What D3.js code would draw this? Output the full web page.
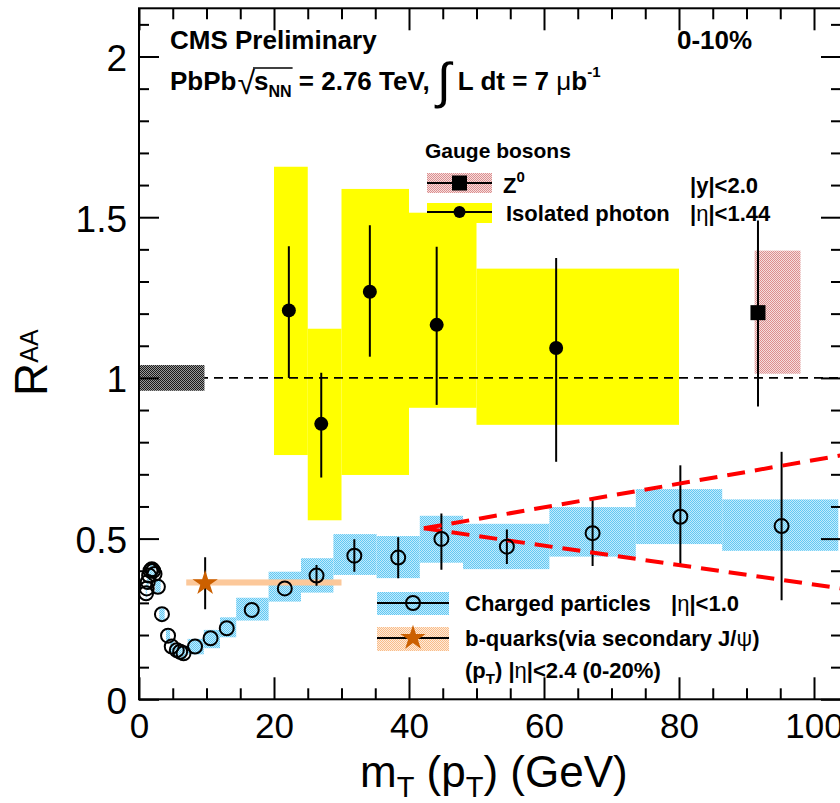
<!DOCTYPE html>
<html><head><meta charset="utf-8">
<script src="https://cdn.jsdelivr.net/npm/d3@7"></script>
<style>body{margin:0;background:#fff}svg{display:block}</style>
</head><body>
<script>
// ---------------- data ----------------
const xMajor = [0, 20, 40, 60, 80, 100];
const xLabels = ["0", "20", "40", "60", "80", "100"];
const xMinor = [5, 10, 15, 25, 30, 35, 45, 50, 55, 65, 70, 75, 85, 90, 95];
const yMajor = [0, 0.5, 1, 1.5, 2];
const yLabels = ["0", "0.5", "1", "1.5", "2"];
const yMinor = [0.1, 0.2, 0.3, 0.4, 0.6, 0.7, 0.8, 0.9, 1.1, 1.2, 1.3, 1.4, 1.6, 1.7, 1.8, 1.9, 2.1];

// isolated photons
const phX = [22.2, 27.0, 34.2, 44.1, 61.8];
const phY = [1.21, 0.857, 1.268, 1.165, 1.093];
const phErrLo = [1.00, 0.69, 1.066, 0.916, 0.739];
const phErrHi = [1.41, 1.016, 1.475, 1.408, 1.373];
const phBinLo = [20, 25, 30, 40, 50];
const phBinHi = [25, 30, 40, 50, 80];
const phSysLo = [0.76, 0.557, 0.698, 0.907, 0.854];
const phSysHi = [1.657, 1.153, 1.588, 1.514, 1.34];

// Z0
const zX = [91.7], zY = [1.203], zErrLo = [0.911], zErrHi = [1.49];
const zBinLo = [91.2], zBinHi = [98.0], zSysLo = [1.013], zSysHi = [1.396];

// charged particles
const chX = [1.05, 1.15, 1.3, 1.5, 1.7, 1.9, 2.1, 2.3, 2.8, 3.4, 4.3, 4.85, 5.6, 6.1, 6.6, 8.3, 10.6, 13.0, 16.7, 21.6, 26.3, 31.9, 38.4, 44.8, 54.5, 67.2, 80.2, 95.2];
const chY = [0.33, 0.345, 0.365, 0.385, 0.40, 0.405, 0.40, 0.39, 0.35, 0.265, 0.198, 0.164, 0.153, 0.148, 0.143, 0.164, 0.19, 0.221, 0.278, 0.345, 0.385, 0.447, 0.441, 0.499, 0.475, 0.517, 0.568, 0.539];
const chErrLo = [0.33, 0.345, 0.365, 0.385, 0.40, 0.405, 0.40, 0.39, 0.35, 0.265, 0.198, 0.164, 0.153, 0.148, 0.143, 0.164, 0.19, 0.221, 0.278, 0.345, 0.353, 0.397, 0.377, 0.403, 0.421, 0.415, 0.418, 0.308];
const chErrHi = [0.33, 0.345, 0.365, 0.385, 0.40, 0.405, 0.40, 0.39, 0.35, 0.265, 0.198, 0.164, 0.153, 0.148, 0.143, 0.164, 0.19, 0.221, 0.278, 0.345, 0.418, 0.498, 0.504, 0.578, 0.528, 0.62, 0.728, 0.77];
const chBinLo = [1.0, 1.1, 1.2, 1.4, 1.6, 1.8, 2.0, 2.2, 2.4, 3.0, 4.0, 4.6, 5.3, 5.9, 6.3, 7.2, 9.6, 12.0, 14.4, 19.2, 24.0, 28.8, 35.2, 41.6, 48.0, 60.8, 73.6, 86.4];
const chBinHi = [1.1, 1.2, 1.4, 1.6, 1.8, 2.0, 2.2, 2.4, 3.2, 3.8, 4.6, 5.2, 5.9, 6.3, 6.9, 9.6, 12.0, 14.4, 19.2, 24.0, 28.8, 35.2, 41.6, 48.0, 60.8, 73.6, 86.4, 103.6];
const chSysLo = [0.312, 0.327, 0.347, 0.367, 0.382, 0.387, 0.382, 0.372, 0.332, 0.247, 0.18, 0.146, 0.135, 0.13, 0.125, 0.14, 0.159, 0.193, 0.245, 0.304, 0.332, 0.387, 0.377, 0.425, 0.405, 0.444, 0.483, 0.462];
const chSysHi = [0.348, 0.363, 0.383, 0.403, 0.418, 0.423, 0.418, 0.408, 0.368, 0.283, 0.216, 0.182, 0.171, 0.166, 0.161, 0.188, 0.216, 0.255, 0.316, 0.397, 0.439, 0.514, 0.508, 0.571, 0.546, 0.598, 0.654, 0.622];

// b-quarks via secondary J/psi
const bX = [9.8], bY = [0.361], bErrLo = [0.28], bErrHi = [0.442];
const bBinLo = [7.0], bBinHi = [30.0], bSysLo = [0.354], bSysHi = [0.373];

// luminosity / normalisation uncertainty box at unity
const lumiX = [0, 9.7], lumiY = [0.96, 1.04];

// red dashed wedge
const wedgeStart = [42.2, 0.532];
const wedgeUpperEnd = [104, 0.759];
const wedgeLowerEnd = [104, 0.345];

// ---------------- drawing ----------------
const W = 840, H = 803;
const FONT = "'Liberation Sans', Arial, Helvetica, sans-serif";
const x = d3.scaleLinear().domain([0, 104]).range([139, 841]);
const y = d3.scaleLinear().domain([0, 2.15]).range([699.3, 8.3]);

const svg = d3.select("body").append("svg").attr("width", W).attr("height", H)
  .style("font-family", FONT);

const defs = svg.append("defs");
function checker(id, c1, c2) {
  const p = defs.append("pattern").attr("id", id).attr("width", 2).attr("height", 2)
    .attr("patternUnits", "userSpaceOnUse");
  p.append("rect").attr("width", 2).attr("height", 2).attr("fill", c2);
  p.append("rect").attr("width", 1).attr("height", 1).attr("fill", c1);
  p.append("rect").attr("x", 1).attr("y", 1).attr("width", 1).attr("height", 1).attr("fill", c1);
}
checker("blueP", "#62c8f3", "#c2ebfc");
checker("pinkP", "#dc8f8f", "#f6dede");
checker("grayP", "#1a1a1a", "#9a9a9a");
checker("peachP", "#f9bd88", "#feeadb");

defs.append("clipPath").attr("id", "plotClip").append("rect")
  .attr("x", x(0)).attr("y", y(2.15)).attr("width", x(104) - x(0)).attr("height", y(0) - y(2.15));

const plot = svg.append("g").attr("clip-path", "url(#plotClip)");

function boxes(g, lo, hi, ylo, yhi, fill) {
  g.selectAll(null).data(lo).enter().append("rect")
    .attr("x", (d, i) => x(lo[i]))
    .attr("width", (d, i) => x(hi[i]) - x(lo[i]))
    .attr("y", (d, i) => y(yhi[i]))
    .attr("height", (d, i) => y(ylo[i]) - y(yhi[i]))
    .attr("fill", fill);
}
function errbars(g, xs, lo, hi, w) {
  g.selectAll(null).data(xs).enter().append("line")
    .attr("x1", d => x(d)).attr("x2", d => x(d))
    .attr("y1", (d, i) => y(lo[i])).attr("y2", (d, i) => y(hi[i]))
    .attr("stroke", "#000").attr("stroke-width", w || 2);
}

// systematic boxes
boxes(plot, phBinLo, phBinHi, phSysLo, phSysHi, "#ffff00");
boxes(plot, zBinLo, zBinHi, zSysLo, zSysHi, "url(#pinkP)");
boxes(plot, chBinLo, chBinHi, chSysLo, chSysHi, "url(#blueP)");
boxes(plot, bBinLo, bBinHi, bSysLo, bSysHi, "#fcc89a");

// unity line
plot.append("line").attr("x1", x(0)).attr("x2", x(104)).attr("y1", y(1)).attr("y2", y(1))
  .attr("stroke", "#000").attr("stroke-width", 1.6).attr("stroke-dasharray", "9,6");
plot.append("rect").attr("x", x(lumiX[0])).attr("width", x(lumiX[1]) - x(lumiX[0]))
  .attr("y", y(lumiY[1])).attr("height", y(lumiY[0]) - y(lumiY[1])).attr("fill", "url(#grayP)");

// error bars
errbars(plot, phX, phErrLo, phErrHi);
errbars(plot, zX, zErrLo, zErrHi);
errbars(plot, chX, chErrLo, chErrHi);
errbars(plot, bX, bErrLo, bErrHi);

// red dashed wedge
[wedgeUpperEnd, wedgeLowerEnd].forEach(e => {
  plot.append("line").attr("x1", x(wedgeStart[0])).attr("y1", y(wedgeStart[1]))
    .attr("x2", x(e[0])).attr("y2", y(e[1]))
    .attr("stroke", "#ff0000").attr("stroke-width", 4).attr("stroke-dasharray", "18,10");
});

// markers
plot.selectAll(null).data(chX).enter().append("circle")
  .attr("cx", d => x(d)).attr("cy", (d, i) => y(chY[i])).attr("r", 7)
  .attr("fill", "none").attr("stroke", "#000").attr("stroke-width", 2);
plot.selectAll(null).data(phX).enter().append("circle")
  .attr("cx", d => x(d)).attr("cy", (d, i) => y(phY[i])).attr("r", 7).attr("fill", "#000");
plot.selectAll(null).data(zX).enter().append("rect")
  .attr("x", d => x(d) - 7.5).attr("y", (d, i) => y(zY[i]) - 7.5)
  .attr("width", 15).attr("height", 15).attr("fill", "#000");
const star = d3.symbol().type(d3.symbolStar).size(200);
plot.selectAll(null).data(bX).enter().append("path")
  .attr("d", star).attr("transform", (d, i) => `translate(${x(d)},${y(bY[i])})`)
  .attr("fill", "#cc6000");

// ---------------- axes ----------------
function styleAxis(g) { g.select(".domain").remove(); g.selectAll("line").attr("stroke", "#000").attr("stroke-width", 2); }
const axB = svg.append("g").attr("transform", `translate(0,${y(0)})`)
  .call(d3.axisBottom(x).tickValues(xMajor).tickSizeInner(-22).tickSizeOuter(0).tickPadding(14)
    .tickFormat((d, i) => xLabels[i]));
styleAxis(axB);
axB.selectAll("text").style("font-size", "35px").style("font-family", FONT).attr("fill", "#000");
svg.append("g").attr("transform", `translate(0,${y(0)})`)
  .call(d3.axisBottom(x).tickValues(xMinor).tickSizeInner(-11).tickSizeOuter(0).tickFormat("")).call(styleAxis);
svg.append("g").attr("transform", `translate(0,${y(2.15)})`)
  .call(d3.axisTop(x).tickValues(xMajor).tickSizeInner(-22).tickSizeOuter(0).tickFormat("")).call(styleAxis);
svg.append("g").attr("transform", `translate(0,${y(2.15)})`)
  .call(d3.axisTop(x).tickValues(xMinor).tickSizeInner(-11).tickSizeOuter(0).tickFormat("")).call(styleAxis);

const axL = svg.append("g").attr("transform", `translate(${x(0)},0)`)
  .call(d3.axisLeft(y).tickValues(yMajor).tickSizeInner(-20).tickSizeOuter(0).tickPadding(12)
    .tickFormat((d, i) => yLabels[i]));
styleAxis(axL);
axL.selectAll("text").style("font-size", "37px").style("font-family", FONT).attr("fill", "#000").attr("dy", "0.38em");
svg.append("g").attr("transform", `translate(${x(0)},0)`)
  .call(d3.axisLeft(y).tickValues(yMinor).tickSizeInner(-10).tickSizeOuter(0).tickFormat("")).call(styleAxis);
svg.append("g").attr("transform", `translate(${x(104)},0)`)
  .call(d3.axisRight(y).tickValues(yMajor).tickSizeInner(-20).tickSizeOuter(0).tickFormat("")).call(styleAxis);
svg.append("g").attr("transform", `translate(${x(104)},0)`)
  .call(d3.axisRight(y).tickValues(yMinor).tickSizeInner(-10).tickSizeOuter(0).tickFormat("")).call(styleAxis);

svg.append("rect").attr("x", x(0)).attr("y", y(2.15)).attr("width", x(104) - x(0)).attr("height", y(0) - y(2.15))
  .attr("fill", "none").attr("stroke", "#000").attr("stroke-width", 2);

// ---------------- text helpers ----------------
function run(parent, x0, y0, parts) {
  let cx = x0;
  parts.forEach(p => {
    const t = parent.append("text").attr("x", cx + (p.dx || 0)).attr("y", y0 + (p.dy || 0))
      .attr("fill", p.fill || "#000")
      .style("font-size", p.size + "px").style("font-weight", p.w || "bold").style("font-family", p.f || FONT)
      .style("white-space", "pre").attr("xml:space", "preserve").text(p.t);
    p.x0 = cx + (p.dx || 0);
    p.width = t.node().getComputedTextLength();
    cx = p.x0 + p.width;
  });
  return parts;
}

// header
run(svg, 170, 49, [{ t: "CMS Preliminary", size: 26 }]);
run(svg, 677, 49, [{ t: "0-10%", size: 26 }]);
const l2 = run(svg, 170, 90, [
  { t: "PbPb", size: 26 },
  { t: "\u221A", size: 32, w: "normal", dx: 1, dy: 4 },
  { t: "s", size: 26, dx: -1 },
  { t: "NN", size: 16, dy: 7 },
  { t: " = 2.76 TeV, ", size: 26 },
  { t: "\u222B", size: 50, w: "normal", dy: 8 },
  { t: " L dt = 7 ", size: 26 },
  { t: "\u03BC", size: 26, w: "normal" },
  { t: "b", size: 26 },
  { t: "-1", size: 15, dy: -13 }
]);
svg.append("line").attr("x1", l2[1].x0 + l2[1].width - 2).attr("x2", l2[3].x0 + l2[3].width + 1)
  .attr("y1", 68).attr("y2", 68).attr("stroke", "#000").attr("stroke-width", 1.5);

// legend: gauge bosons
run(svg, 425, 158, [{ t: "Gauge bosons", size: 21 }]);
const lg = svg.append("g");
lg.append("rect").attr("x", 427).attr("y", 173).attr("width", 65).attr("height", 20).attr("fill", "url(#pinkP)");
lg.append("line").attr("x1", 427).attr("x2", 492).attr("y1", 183).attr("y2", 183).attr("stroke", "#000").attr("stroke-width", 2);
lg.append("rect").attr("x", 459.5 - 7.5).attr("y", 183 - 7.5).attr("width", 15).attr("height", 15).attr("fill", "#000");
run(svg, 503, 193, [{ t: "Z", size: 22 }, { t: "0", size: 15, dy: -11 }]);
run(svg, 690, 193, [{ t: "|y|<2.0", size: 22 }]);
lg.append("rect").attr("x", 427).attr("y", 203).attr("width", 65).attr("height", 20).attr("fill", "#ffff00");
lg.append("line").attr("x1", 427).attr("x2", 492).attr("y1", 212).attr("y2", 212).attr("stroke", "#000").attr("stroke-width", 2);
lg.append("circle").attr("cx", 459.5).attr("cy", 212).attr("r", 6).attr("fill", "#000");
run(svg, 506, 221, [{ t: "Isolated photon", size: 22 }]);
run(svg, 690, 221, [{ t: "|", size: 22 }, { t: "\u03B7", size: 22, w: "normal" }, { t: "|<1.44", size: 22 }]);

// legend: charged + b
lg.append("rect").attr("x", 377).attr("y", 592).attr("width", 72).attr("height", 23).attr("fill", "url(#blueP)");
lg.append("line").attr("x1", 377).attr("x2", 449).attr("y1", 603).attr("y2", 603).attr("stroke", "#000").attr("stroke-width", 2);
lg.append("circle").attr("cx", 413).attr("cy", 603).attr("r", 7).attr("fill", "none").attr("stroke", "#000").attr("stroke-width", 2);
run(svg, 465, 611, [{ t: "Charged particles", size: 22 }]);
run(svg, 671, 611, [{ t: "|", size: 22 }, { t: "\u03B7", size: 22, w: "normal" }, { t: "|<1.0", size: 22 }]);
lg.append("rect").attr("x", 377).attr("y", 627).attr("width", 72).attr("height", 24).attr("fill", "url(#peachP)");
lg.append("line").attr("x1", 377).attr("x2", 449).attr("y1", 638).attr("y2", 638).attr("stroke", "#000").attr("stroke-width", 2);
lg.append("path").attr("d", star).attr("transform", "translate(413,638)").attr("fill", "#cc6000");
run(svg, 465, 646, [{ t: "b-quarks(via secondary J/", size: 22 }, { t: "\u03C8", size: 22, w: "normal" }, { t: ")", size: 22 }]);
run(svg, 465, 678, [{ t: "(p", size: 22 }, { t: "T", size: 15, dy: 6 }, { t: ") |", size: 22 },
  { t: "\u03B7", size: 22, w: "normal" }, { t: "|<2.4 (0-20%)", size: 22 }]);

// axis titles
const xt = svg.append("g");
run(xt, 0, 787, [
  { t: "m", size: 44, w: "normal" }, { t: "T", size: 29, w: "normal", dy: 10 },
  { t: " (p", size: 44, w: "normal" }, { t: "T", size: 29, w: "normal", dy: 10 },
  { t: ") (GeV)", size: 44, w: "normal" }
]);
xt.attr("transform", `translate(360,0)`);

const yt = svg.append("g").attr("transform", "translate(47,396) rotate(-90)");
run(yt, 0, 0, [{ t: "R", size: 46, w: "normal" }, { t: "AA", size: 25, w: "normal", dy: -9 }]);
</script>
</body></html>
